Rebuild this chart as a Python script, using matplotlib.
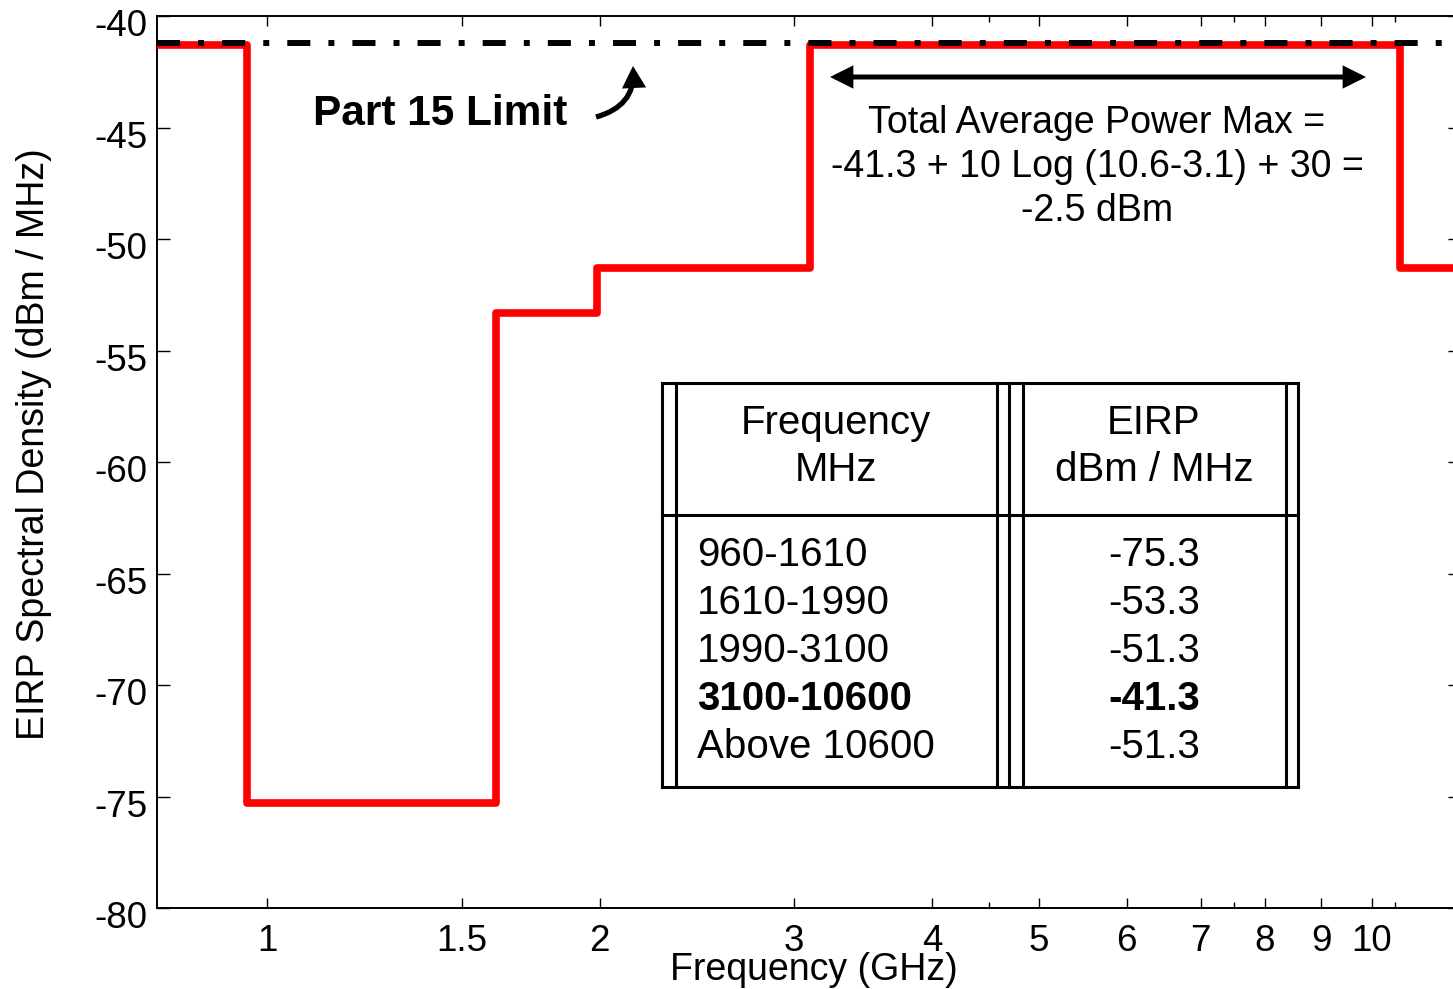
import matplotlib
matplotlib.use('Agg')
import matplotlib.pyplot as plt
from matplotlib.transforms import Affine2D, ScaledTranslation
from matplotlib.patches import FancyArrowPatch, ArrowStyle
from matplotlib.lines import Line2D
from matplotlib.ticker import FixedLocator, FixedFormatter, NullFormatter

# ---------------- data ----------------
band_edges_ghz = [0.795, 0.96, 1.61, 1.99, 3.1, 10.6, 12.02]
mask_dbm_mhz = [-41.3, -75.3, -53.3, -51.3, -41.3, -51.3]
part15_limit = -41.2

x_ticks = [1, 1.5, 2, 3, 4, 5, 6, 7, 8, 9, 10]
x_tick_labels = ['1', '1.5', '2', '3', '4', '5', '6', '7', '8', '9', '10']
x_minor_ticks = [4.5, 7.5, 10.5]
y_ticks = [-80, -75, -70, -65, -60, -55, -50, -45, -40]
y_tick_labels = ['-80', '-75', '-70', '-65', '-60', '-55', '-50', '-45', '-40']

table_freq = ['960-1610', '1610-1990', '1990-3100', '3100-10600', 'Above 10600']
table_eirp = ['-75.3', '-53.3', '-51.3', '-41.3', '-51.3']
bold_row = 3

annotation_lines = ['Total Average Power Max =',
                    '-41.3 + 10 Log (10.6-3.1) + 30 =',
                    '-2.5 dBm']

# ---------------- style ----------------
plt.rcParams['font.family'] = ['Liberation Sans', 'DejaVu Sans']
plt.rcParams['axes.unicode_minus'] = False
plt.rcParams['lines.scale_dashes'] = False
FS = 26.5
FS_LABEL = 27
FS_ANN = 27.0
FS_TBL = 29

W, H = 1453, 989
fig = plt.figure(figsize=(W / 100, H / 100), dpi=100)
fig.patch.set_facecolor('white')

# pixel transform (x from left, y from top)
PX = Affine2D().scale(1.0 / W, -1.0 / H).translate(0, 1) + fig.transFigure

ax_left, ax_right, ax_top, ax_bot = 157, 1460, 16, 908
ax = fig.add_axes([ax_left / W, (H - ax_bot) / H, (ax_right - ax_left) / W, (ax_bot - ax_top) / H])

ax.set_xscale('log')
ax.set_xlim(band_edges_ghz[0], band_edges_ghz[-1])
ax.set_ylim(-80, -40)

# mask (red step line)
ax.plot(band_edges_ghz, mask_dbm_mhz + [mask_dbm_mhz[-1]], drawstyle='steps-post',
        color='#ff0000', lw=5.5, solid_joinstyle='round', solid_capstyle='butt', zorder=3)

# Part 15 limit (dash-dot)
ax.axhline(part15_limit, color='black', lw=4.3, dashes=(16.6, 13, 4.3, 13),
           dash_capstyle='butt', zorder=4)

# ticks
ax.xaxis.set_major_locator(FixedLocator(x_ticks))
ax.xaxis.set_major_formatter(FixedFormatter(x_tick_labels))
ax.xaxis.set_minor_locator(FixedLocator(x_minor_ticks))
ax.xaxis.set_minor_formatter(NullFormatter())
ax.set_yticks(y_ticks)
ax.set_yticklabels(y_tick_labels)

ax.tick_params(axis='both', which='both', direction='in', top=True, right=True,
               labelsize=FS, width=1.0, colors='black')
ax.tick_params(axis='x', which='major', length=7, pad=11.5)
ax.tick_params(axis='x', which='minor', length=4)
ax.tick_params(axis='y', which='major', length=9, pad=7)
for sp in ax.spines.values():
    sp.set_linewidth(1.4)

off = ScaledTranslation(0, -5 / 72, fig.dpi_scale_trans)
for lab in ax.get_yticklabels():
    lab.set_transform(lab.get_transform() + off)

ax.set_xlabel('Frequency (GHz)', fontsize=FS_LABEL, labelpad=-5)
ax.set_ylabel('EIRP Spectral Density (dBm / MHz)', fontsize=FS_LABEL, labelpad=30)
ax.xaxis.label.set_x(0.5042)
ax.yaxis.label.set_y(0.5196)

# ---------------- annotations ----------------
fig.text(313, 125, 'Part 15 Limit', transform=PX, fontsize=30.5, fontweight='bold',
         ha='left', va='baseline')

curved = FancyArrowPatch((596, 117), (633, 66), transform=PX,
                         connectionstyle='arc3,rad=0.4',
                         arrowstyle=ArrowStyle('-|>', head_length=10, head_width=5.5),
                         mutation_scale=1, lw=3.8, color='black',
                         shrinkA=0, shrinkB=0, joinstyle='miter', capstyle='butt')
fig.patches.append(curved)

dbl = FancyArrowPatch((830, 77), (1366, 77), transform=PX,
                      arrowstyle=ArrowStyle('<|-|>', head_length=11, head_width=5.5),
                      mutation_scale=1, lw=3.6, color='black',
                      shrinkA=0, shrinkB=0, joinstyle='miter', capstyle='butt')
fig.patches.append(dbl)

for i, line in enumerate(annotation_lines):
    fig.text(1097, 133 + 44 * i, line, transform=PX, fontsize=FS_ANN,
             ha='center', va='baseline')

# ---------------- table ----------------
tbl_top, tbl_mid, tbl_bot = 383, 515, 787
tbl_xs = [662, 676, 997, 1009, 1023, 1286, 1298]
for xv in tbl_xs:
    fig.lines.append(Line2D([xv, xv], [tbl_top, tbl_bot], transform=PX,
                            color='black', lw=2.2, solid_capstyle='projecting'))
for yv in (tbl_top, tbl_mid, tbl_bot):
    fig.lines.append(Line2D([tbl_xs[0], tbl_xs[-1]], [yv, yv], transform=PX,
                            color='black', lw=2.2, solid_capstyle='projecting'))

fig.text(836, 434, 'Frequency', transform=PX, fontsize=FS_TBL, ha='center', va='baseline')
fig.text(836, 481, 'MHz', transform=PX, fontsize=FS_TBL, ha='center', va='baseline')
fig.text(1154, 434, 'EIRP', transform=PX, fontsize=FS_TBL, ha='center', va='baseline')
fig.text(1154, 481, 'dBm / MHz', transform=PX, fontsize=FS_TBL, ha='center', va='baseline')

for i, (fr, ei) in enumerate(zip(table_freq, table_eirp)):
    wt = 'bold' if i == bold_row else 'normal'
    yb = 566 + 48 * i
    fig.text(697, yb, fr, transform=PX, fontsize=FS_TBL, fontweight=wt, ha='left', va='baseline')
    fig.text(1154, yb, ei, transform=PX, fontsize=FS_TBL, fontweight=wt, ha='center', va='baseline')

fig.savefig('out.png', dpi=100)
